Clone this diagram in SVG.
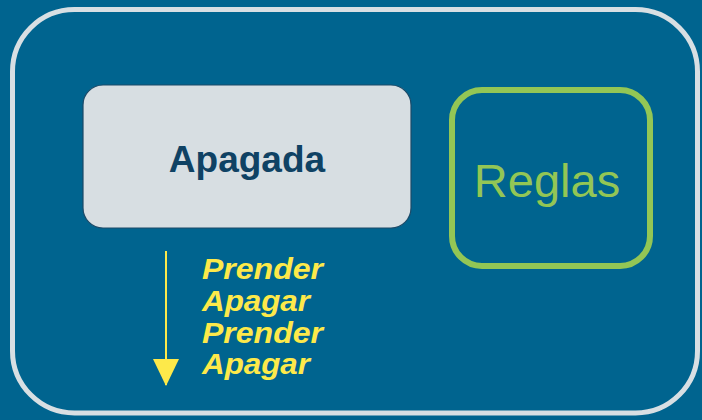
<svg xmlns="http://www.w3.org/2000/svg" width="702" height="420" viewBox="0 0 702 420">
<style>
.seq{font-family:"Liberation Sans",Arial,sans-serif;font-weight:bold;font-style:italic;font-size:30px;fill:#fde94a}
</style>
<defs>
<marker id="ah" markerUnits="userSpaceOnUse" markerWidth="28" markerHeight="28" viewBox="0 0 28 28" refX="26" refY="14" orient="auto">
<path d="M0,1 L27,14 L0,27 Z" fill="#fde94a"/>
</marker>
</defs>
<rect x="0" y="0" width="702" height="420" fill="#00648f"/>
<g id="frame">
<rect x="12.5" y="9.5" width="685" height="403.5" rx="62" ry="62" fill="none" stroke="#d8dfe3" stroke-width="5"/>
</g>
<g id="apagada">
<rect x="83" y="85" width="328" height="143" rx="20" ry="20" fill="#d7dee2" stroke="#1c4a68" stroke-width="1.2"/>
<text x="247" y="172" text-anchor="middle" font-family="'Liberation Sans',Arial,sans-serif" font-weight="bold" font-size="37" fill="#0f4264">Apagada</text>
</g>
<g id="reglas">
<rect x="452" y="90" width="198" height="176" rx="30" ry="30" fill="none" stroke="#93c655" stroke-width="6"/>
<text x="547" y="197" text-anchor="middle" font-family="'Liberation Sans',Arial,sans-serif" font-size="47" fill="#93c655">Reglas</text>
</g>
<g id="connectors">
<line x1="166" y1="251" x2="166" y2="385" stroke="#fde94a" stroke-width="2" marker-end="url(#ah)"/>
</g>
<g id="sequence">
<text class="seq" x="202" y="279" textLength="121" lengthAdjust="spacingAndGlyphs">Prender</text>
<text class="seq" x="202" y="311" textLength="108" lengthAdjust="spacingAndGlyphs">Apagar</text>
<text class="seq" x="202" y="343" textLength="121" lengthAdjust="spacingAndGlyphs">Prender</text>
<text class="seq" x="202" y="374" textLength="108" lengthAdjust="spacingAndGlyphs">Apagar</text>
</g>
</svg>
